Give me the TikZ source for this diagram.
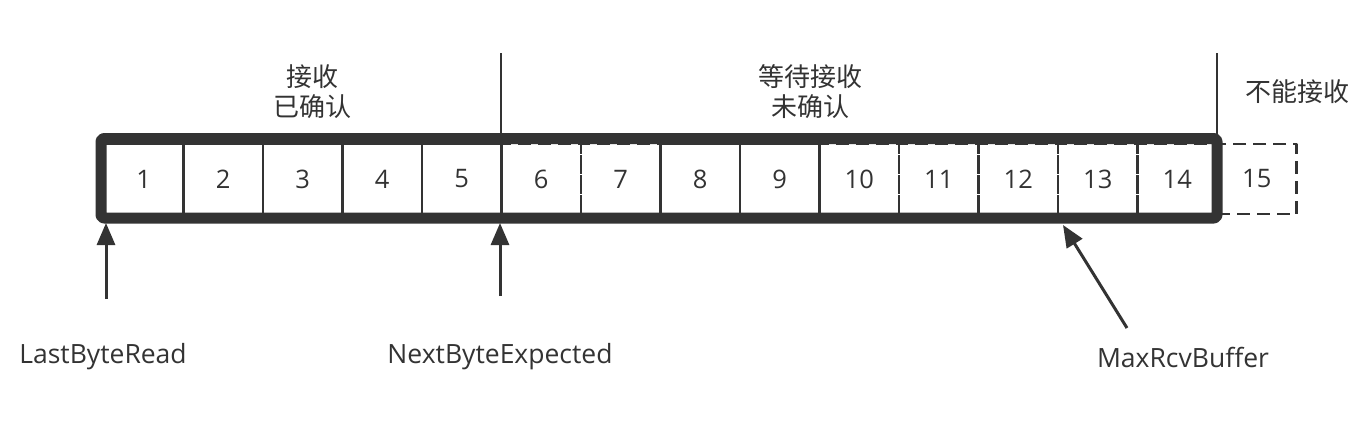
\documentclass[tikz,border=0pt]{standalone}
\usepackage{fontspec}
\setmainfont{Open Sans}
\newfontfamily\cjk{Noto Sans CJK SC}
\usetikzlibrary{arrows.meta}
\definecolor{ink}{HTML}{333333}
\begin{document}
\begin{tikzpicture}[x=1pt,y=-1pt,line join=round,
	cell/.style={draw=ink,line width=2.5pt,minimum width=79.5pt,minimum height=70pt,inner sep=0pt,text=ink,font=\fontsize{25.5}{25.5}\selectfont},
	gapcell/.style={cell,dash pattern=on 13pt off 7pt},
	lbl/.style={text=ink,align=center,font=\fontsize{26}{30}\selectfont\cjk},
	ptrlbl/.style={text=ink,font=\fontsize{26.5}{26.5}\selectfont},
	ptr/.style={-{Triangle[length=22pt,width=18pt]},line width=3pt,draw=ink}]
	\useasboundingbox (0,0) rectangle (1370,426);
	% bytes in the buffer
	\foreach \i/\s in {1/cell,2/cell,3/cell,4/cell,5/cell,6/gapcell,7/gapcell,8/cell,9/cell,10/gapcell,11/gapcell,12/gapcell,13/gapcell,14/gapcell,15/gapcell}
		\node[\s] (c\i) at ({104+79.5*(\i-0.5)},179) {\i};
	\draw[ink,line width=11pt,rounded corners=3pt] (101,138.5) rectangle (1217,218);
	\draw[ink,line width=2pt] (501,53)--(501,138) (1217,53)--(1217,138);
	% regions
	\node[lbl] (acked) at (312,92) {接收\\已确认};
	\node[lbl] (waiting) at (810,92) {等待接收\\未确认};
	\node[lbl] (refused) at (1297,92) {不能接收};
	% pointers
	\node[ptrlbl] (lastread) at (103,357) {LastByteRead};
	\node[ptrlbl] (nextexp) at (500,357) {NextByteExpected};
	\node[ptrlbl] (maxbuf) at (1183,357) {MaxRcvBuffer};
	\coordinate (lastfoot) at (106,299);
	\coordinate (lasttip) at (106,223);
	\coordinate (nextfoot) at (500,296);
	\coordinate (nexttip) at (500,223);
	\coordinate (maxfoot) at (1127,328);
	\coordinate (maxtip) at (1063,225);
	\draw[ptr] (lastfoot)--(lasttip);
	\draw[ptr] (nextfoot)--(nexttip);
	\draw[ptr] (maxfoot)--(maxtip);
\end{tikzpicture}
\end{document}
